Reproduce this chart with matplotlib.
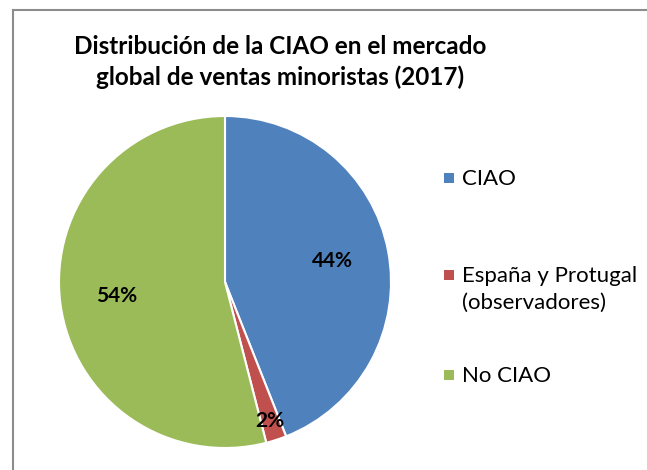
import numpy as np
import matplotlib
matplotlib.use('Agg')
import matplotlib.pyplot as plt
from matplotlib.patches import Rectangle
from matplotlib.lines import Line2D

plt.rcParams['font.family'] = ['Lato', 'DejaVu Sans']

labels = ['CIAO', 'España y Protugal\n(observadores)', 'No CIAO']
values = [44, 2, 54]
colors = ['#4F81BD', '#C0504D', '#9BBB59']
title = 'Distribución de la CIAO en el mercado\nglobal de ventas minoristas (2017)'

W, H = 647, 470
fig = plt.figure(figsize=(W / 100, H / 100), dpi=100)

# chart frame (runs off the right and bottom edges like the source)
fig.add_artist(Line2D([13 / W, 1.0], [1 - 10 / H, 1 - 10 / H], color='#8c8c8c', lw=1.5))
fig.add_artist(Line2D([13 / W, 13 / W], [0, 1 - 10 / H], color='#8c8c8c', lw=1.5))

# pie: centre (225, 282) px, radius 166 px
cx, cy, r = 225, 282, 166
ax = fig.add_axes([(cx - r) / W, (H - cy - r) / H, 2 * r / W, 2 * r / H])
wedges, _ = ax.pie(values, colors=colors, startangle=90, counterclock=False,
                   wedgeprops=dict(edgecolor='white', linewidth=1.5))
ax.set_xlim(-1, 1)
ax.set_ylim(-1, 1)

for w, v in zip(wedges, values):
    ang = np.deg2rad((w.theta1 + w.theta2) / 2)
    d = 0.88 if v < 5 else 0.66
    ax.text(d * np.cos(ang), d * np.sin(ang), f'{v}%', ha='center', va='center',
            fontsize=15, fontweight='bold', color='black')

fig.text(280 / W, 1 - 62 / H, title, ha='center', va='center', fontsize=17.5,
         fontweight='bold', linespacing=1.37)

# legend
rows = [178, 275, 375]
for c, lab, y in zip(colors, labels, rows):
    fig.add_artist(Rectangle((444 / W, 1 - (y + 5) / H), 10 / W, 10 / H,
                             facecolor=c, edgecolor='none'))
    for i, line in enumerate(lab.split('\n')):
        fig.text(462 / W, 1 - (y + 7 + 27 * i) / H, line, ha='left', va='baseline',
                 fontsize=16)

fig.savefig('out.png', dpi=100)
